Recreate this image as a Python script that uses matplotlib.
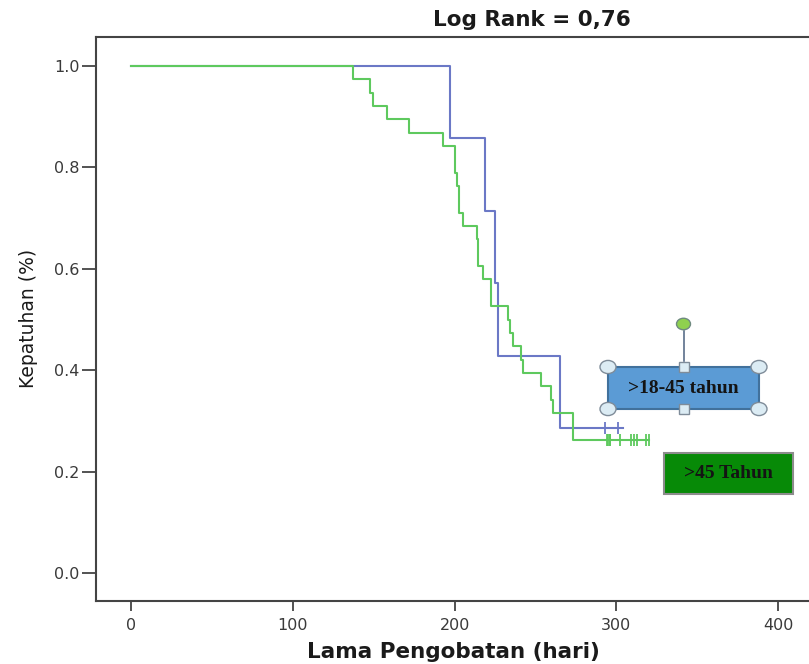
import numpy as np
import matplotlib.pyplot as plt
from matplotlib.patches import Rectangle, Circle
from matplotlib.lines import Line2D

# Kaplan-Meier data (days)
# group >18-45 tahun (n = 7)
blue_event_times = [197, 219, 225, 227, 265]
blue_censor_times = [293, 301]
blue_last_followup = 304

# group >45 Tahun (n = 38)
green_event_times = [137.4, 147.7, 149.5, 158, 171.8, 192.6, 200.2, 200.2,
                     201.2, 202.8, 202.8, 205, 213.6, 214.6, 214.6, 217.7,
                     222.8, 222.8, 233.2, 234.2, 236.2, 240.8, 242, 253.2,
                     259.3, 261, 273.4, 273.4]
green_censor_times = [294, 295, 296, 296, 302, 309, 311, 313, 318, 320]
green_last_followup = 320

x_ticks = [0, 100, 200, 300, 400]
y_ticks = [0.0, 0.2, 0.4, 0.6, 0.8, 1.0]
title_text = "Log Rank = 0,76"
label_blue = ">18-45 tahun"
label_green = ">45 Tahun"

blue_color = "#6b78c6"
green_color = "#5ec95e"


def km_curve(events, censored, last):
    ev = np.array(events, dtype=float)
    ce = np.array(censored, dtype=float)
    n = len(ev) + len(ce)
    xs, ys, s = [0.0], [1.0], 1.0
    for t in np.unique(ev):
        at_risk = n - np.sum(ev < t) - np.sum(ce < t)
        d = np.sum(ev == t)
        s *= 1 - d / at_risk
        xs.append(t)
        ys.append(s)
    xs.append(last)
    ys.append(s)
    return np.array(xs), np.array(ys)


def surv_at(xs, ys, t):
    idx = np.searchsorted(xs, t, side="right") - 1
    return ys[idx]


W, H = 809, 664
fig = plt.figure(figsize=(W / 100, H / 100), dpi=100)
ax = fig.add_axes([96 / W, 1 - 601 / H, 1 - 96 / W, (601 - 37) / H])

for ev, ce, last, col, z in [
    (blue_event_times, blue_censor_times, blue_last_followup, blue_color, 2),
    (green_event_times, green_censor_times, green_last_followup, green_color, 3),
]:
    xs, ys = km_curve(ev, ce, last)
    ax.step(xs, ys, where="post", color=col, lw=1.5, zorder=z)
    cy = [surv_at(xs, ys, t) for t in ce]
    ax.plot(ce, cy, ls="none", marker="|", ms=9, mew=1.3, color=col, zorder=z)

ax.set_xlim(-21.6, 419)
ax.set_ylim(-0.055, 1.057)
ax.set_xticks(x_ticks)
ax.set_yticks(y_ticks)
ax.set_yticklabels([f"{v:.1f}" for v in y_ticks])
ax.tick_params(direction="out", width=1.3, color="#444444",
               labelsize=11.5, labelcolor="#3a3a3a")
ax.tick_params(axis="y", length=10, pad=2)
ax.tick_params(axis="x", length=7, pad=5)
for side in ["left", "bottom", "top"]:
    ax.spines[side].set_color("#444444")
    ax.spines[side].set_linewidth(1.5)
ax.spines["right"].set_visible(False)

ax.set_xlabel("Lama Pengobatan (hari)", fontsize=15.5, fontweight="bold",
              color="#1a1a1a", va="center")
ax.xaxis.set_label_coords((453 - 96) / (W - 96), (601 - 652) / (601 - 37))
ax.set_ylabel("Kepatuhan (%)", fontsize=13.5, color="#1a1a1a", va="center")
ax.yaxis.set_label_coords((28 - 96) / (W - 96), (601 - 318) / (601 - 37))
fig.text(532 / W, 1 - 20 / H, title_text, ha="center", va="center",
         fontsize=15.5, fontweight="bold", color="#1a1a1a")


def px(x, y):
    return x / W, 1 - y / H


# selected text box (blue label)
bx0, by0, bx1, by1 = 608, 367, 759, 409
fig.patches.append(Rectangle(px(bx0, by1), (bx1 - bx0) / W, (by1 - by0) / H,
                             transform=fig.transFigure, facecolor="#5b9bd5",
                             edgecolor="#41719c", lw=1.5, zorder=5))
fig.text(*px((bx0 + bx1) / 2, (by0 + by1) / 2), label_blue, ha="center",
         va="center", fontsize=14, fontweight="bold", family="Liberation Serif",
         color="#141414", zorder=6)
cx = (bx0 + bx1) / 2
fig.lines.append(Line2D([cx / W, cx / W], [1 - 331 / H, 1 - 361 / H],
                        transform=fig.transFigure, color="#5a6e8a", lw=1.2,
                        zorder=5))
fig.patches.append(Circle(px(cx, 324), 7 / W, transform=fig.transFigure,
                          facecolor="#8fd14f", edgecolor="#6f8a80", lw=1,
                          zorder=7))
for hx, hy in [(bx0, by0), (bx1, by0), (bx0, by1), (bx1, by1)]:
    fig.patches.append(Circle(px(hx, hy), 8 / W, transform=fig.transFigure,
                              facecolor="#dcecf4", edgecolor="#7f8c99", lw=1,
                              zorder=7))
for hy in [by0, by1]:
    fig.patches.append(Rectangle(px(cx - 5, hy + 5), 10 / W, 10 / H,
                                 transform=fig.transFigure,
                                 facecolor="#dcecf4", edgecolor="#7f8c99",
                                 lw=1, zorder=7))

# green label box
gx0, gy0, gx1, gy1 = 664, 453, 793, 494
fig.patches.append(Rectangle(px(gx0, gy1), (gx1 - gx0) / W, (gy1 - gy0) / H,
                             transform=fig.transFigure, facecolor="#078a07",
                             edgecolor="#8c8c8c", lw=1.5, zorder=5))
fig.text(*px((gx0 + gx1) / 2, (gy0 + gy1) / 2), label_green, ha="center",
         va="center", fontsize=14, fontweight="bold", family="Liberation Serif",
         color="#141414", zorder=6)

fig.savefig("out.png", dpi=100)
